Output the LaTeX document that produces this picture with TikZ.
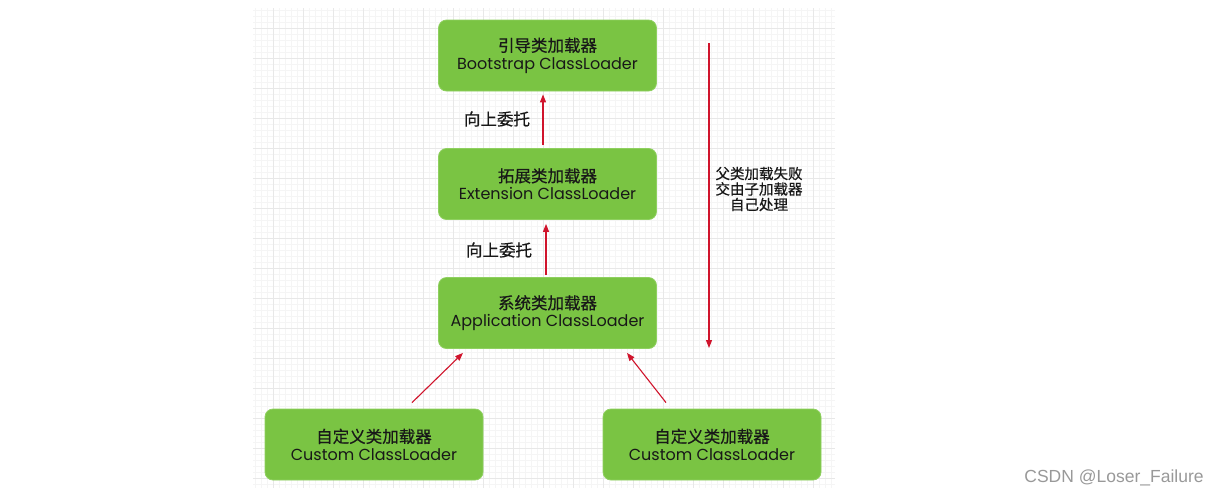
\documentclass[tikz,border=0pt]{standalone}
\usepackage{fontspec}
\setmainfont{Poppins}
\newfontfamily\cjk[FakeBold=0.6]{Noto Sans CJK SC}
\newfontfamily\wmfont{Liberation Sans}
\usetikzlibrary{arrows.meta}
\definecolor{boxgreen}{HTML}{7AC443}
\definecolor{boxedge}{HTML}{8FD060}
\definecolor{arrowred}{HTML}{D0142C}
\definecolor{gridminor}{HTML}{F5F5F5}
\definecolor{gridmajor}{HTML}{E8E8E8}
\definecolor{txt}{HTML}{181818}
\tikzset{
  loader/.style={draw=boxedge, line width=0.8pt, fill=boxgreen, rounded corners=8pt,
    minimum width=218pt, minimum height=71pt, align=center, text=txt, inner sep=0pt,
    font=\fontsize{16}{17.5}\selectfont},
  up/.style={draw=arrowred, line width=1.1pt, -{Triangle[length=8pt,width=6pt]}},
  lbl/.style={text=txt, font=\cjk\fontsize{16.5}{17}\selectfont, inner sep=0pt},
}
\begin{document}
\begin{tikzpicture}[x=1pt,y=-1pt]
\useasboundingbox (0,0) rectangle (1220,496);
\fill[white] (0,0) rectangle (1220,496);
% grid
\foreach \x in {255,261,...,835} \draw[gridminor, line width=0.4pt] (\x,8) -- (\x,488);
\foreach \y in {10,16,...,488} \draw[gridminor, line width=0.4pt] (253,\y) -- (835,\y);
\foreach \x in {273,303,...,835} \draw[gridmajor, line width=0.6pt] (\x,8) -- (\x,488);
\foreach \y in {28,58,...,488} \draw[gridmajor, line width=0.6pt] (253,\y) -- (835,\y);

\node[loader] (boot) at (547.5,55.5) {{\cjk\fontsize{16.5}{17.5}\selectfont 引导类加载器}\\Bootstrap ClassLoader};
\node[loader] (ext) at (547.5,184) {{\cjk\fontsize{16.5}{17.5}\selectfont 拓展类加载器}\\Extension ClassLoader};
\node[loader] (app) at (547.5,313) {{\cjk\fontsize{16.5}{17.5}\selectfont 系统类加载器}\\Application ClassLoader};
\node[loader] (cl) at (374,444.5) {{\cjk\fontsize{16.5}{17.5}\selectfont 自定义类加载器}\\Custom ClassLoader};
\node[loader] (cr) at (712,444.5) {{\cjk\fontsize{16.5}{17.5}\selectfont 自定义类加载器}\\Custom ClassLoader};

\draw[up] ([xshift=-4.5pt,yshift=3pt]ext.north) -- ([xshift=-4.5pt,yshift=-3pt]boot.south);
\draw[up] ([xshift=-1.5pt,yshift=2pt]app.north) -- ([xshift=-1.5pt,yshift=-4pt]ext.south);
\draw[up] ([xshift=38pt,yshift=6pt]cl.north) -- ([xshift=-84.5pt,yshift=-4pt]app.south);
\draw[up] ([xshift=-46pt,yshift=6pt]cr.north) -- ([xshift=79.5pt,yshift=-4pt]app.south);

\node[lbl] (l1) at (497,119) {向上委托};
\node[lbl] (l2) at (499,250) {向上委托};

\coordinate (dtop) at (709,43);
\coordinate (dbot) at (709,348);
\draw[up] (dtop) -- (dbot);
\node[lbl, align=center, font=\cjk\fontsize{14.5}{15.5}\selectfont] (fail) at (759,189) {父类加载失败\\交由子加载器\\自己处理};

\node[text=black!40, font=\wmfont\fontsize{17.5}{19}\selectfont, inner sep=0pt] (wm) at (1114,478) {CSDN @Loser\_Failure};
\end{tikzpicture}
\end{document}
